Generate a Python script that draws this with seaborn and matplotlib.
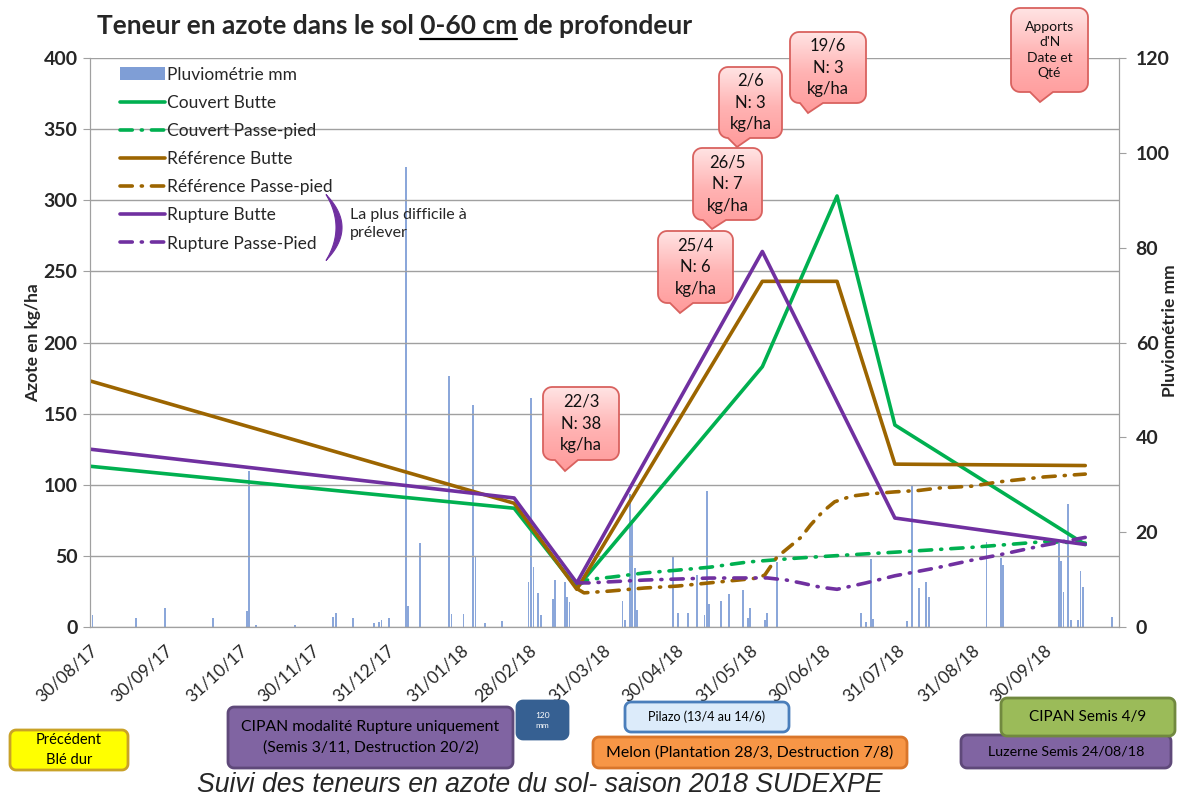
import numpy as np
import pandas as pd
import matplotlib
matplotlib.use("Agg")
import matplotlib.pyplot as plt
from matplotlib.patches import Polygon, Patch
from matplotlib.lines import Line2D
from matplotlib.colors import LinearSegmentedColormap
import seaborn as sns

# ---------------- data ----------------
tick_labels = ["30/08/17", "30/09/17", "31/10/17", "30/11/17", "31/12/17", "31/01/18", "28/02/18",
               "31/03/18", "30/04/18", "31/05/18", "30/06/18", "31/07/18", "31/08/18", "30/09/18"]

rain_dates = ["2017-08-31", "2017-09-18", "2017-09-30", "2017-10-20", "2017-11-03", "2017-11-04", "2017-11-07",
              "2017-11-23", "2017-12-09", "2017-12-10", "2017-12-17", "2017-12-26", "2017-12-28", "2017-12-29",
              "2018-01-01", "2018-01-08", "2018-01-09", "2018-01-14", "2018-01-26", "2018-01-27", "2018-02-01",
              "2018-02-05", "2018-02-06", "2018-02-10", "2018-02-17", "2018-02-28", "2018-03-01", "2018-03-02",
              "2018-03-04", "2018-03-05", "2018-03-10", "2018-03-11", "2018-03-15", "2018-03-16", "2018-03-17",
              "2018-04-08", "2018-04-09", "2018-04-11", "2018-04-12", "2018-04-13", "2018-04-14", "2018-04-29",
              "2018-05-01", "2018-05-05", "2018-05-09", "2018-05-12", "2018-05-13", "2018-05-14", "2018-05-19",
              "2018-05-22", "2018-05-28", "2018-05-30", "2018-05-31", "2018-06-06", "2018-06-07", "2018-06-11",
              "2018-07-16", "2018-07-18", "2018-07-20", "2018-07-21", "2018-08-04", "2018-08-06", "2018-08-09",
              "2018-08-12", "2018-08-13", "2018-09-06", "2018-09-12", "2018-09-13", "2018-10-06", "2018-10-07",
              "2018-10-08", "2018-10-10", "2018-10-11", "2018-10-14", "2018-10-15", "2018-10-16", "2018-10-28"]
rain_mm = [2.5, 2, 4, 2, 3.4, 33, 0.5, 0.5, 2.2, 2.9, 2, 0.8, 1, 1.5, 2, 97, 4.4, 17.8, 53, 2.7, 2.7,
           46.8, 15, 0.8, 1.3, 9.5, 48.3, 12.7, 7.2, 2.5, 6, 10, 9.5, 6.3, 5.3, 5.5, 1.5, 28, 22.5, 12.4, 3.6,
           15, 2.9, 2.9, 11, 2.5, 28.7, 4.9, 5.5, 7, 7.8, 1.9, 4, 1.5, 2.9, 13.7, 2.9, 1, 14.3, 1.7, 1.3, 30,
           8.2, 9.5, 6.3, 18, 14.5, 13, 17.7, 14, 7.4, 26, 1.5, 1.5, 11.8, 8.4, 2.1]

couvert_butte_dates = ["2017-08-30", "2018-02-22", "2018-03-20", "2018-06-05", "2018-07-06", "2018-07-30", "2018-10-17"]
couvert_butte = [113, 83.5, 27.5, 183, 303, 142, 58]

reference_butte_dates = ["2017-08-30", "2018-02-22", "2018-03-20", "2018-06-05", "2018-07-06", "2018-07-30", "2018-10-17"]
reference_butte = [173, 87, 26.5, 243, 243, 114.5, 113.5]

rupture_butte_dates = ["2017-08-30", "2018-02-22", "2018-03-20", "2018-06-05", "2018-07-30", "2018-10-17"]
rupture_butte = [125, 90.7, 31, 264, 76.6, 58]

couvert_pp_dates = ["2018-03-20", "2018-03-25", "2018-04-03", "2018-04-17", "2018-05-01", "2018-05-14", "2018-05-30",
                    "2018-06-20", "2018-07-10", "2018-07-31", "2018-08-31", "2018-09-30", "2018-10-17"]
couvert_pp = [29, 33.5, 35, 38, 40, 42, 45.7, 48.5, 50.6, 52.7, 56, 60, 59]

reference_pp_dates = ["2018-03-20", "2018-03-23", "2018-04-03", "2018-04-17", "2018-05-01", "2018-05-14", "2018-05-26",
                      "2018-06-03", "2018-06-06", "2018-06-11", "2018-06-21", "2018-06-25", "2018-06-30", "2018-07-05",
                      "2018-07-12", "2018-07-19", "2018-07-30", "2018-08-09", "2018-08-17", "2018-08-31", "2018-09-11",
                      "2018-09-30", "2018-10-17"]
reference_pp = [27, 24, 25.3, 27.4, 28.8, 31, 33, 34.4, 36.5, 49, 63, 71.7, 81, 88, 92, 93.5, 95, 96, 97.7, 99,
                102, 105.5, 107.5]

rupture_pp_dates = ["2018-03-20", "2018-03-25", "2018-04-17", "2018-05-14", "2018-06-07", "2018-06-15", "2018-06-21",
                    "2018-06-29", "2018-07-06", "2018-07-18", "2018-07-30", "2018-08-16", "2018-08-31", "2018-09-11",
                    "2018-09-30", "2018-10-17"]
rupture_pp = [31, 31, 33, 34.4, 34.5, 33, 31, 28, 26.5, 31, 36, 41.5, 47, 50.6, 57.5, 63]

series = [
    ("Couvert Butte", couvert_butte_dates, couvert_butte, "#00B050", "-"),
    ("Couvert Passe-pied", couvert_pp_dates, couvert_pp, "#00B050", "dd"),
    ("Référence Butte", reference_butte_dates, reference_butte, "#9C6500", "-"),
    ("Référence Passe-pied", reference_pp_dates, reference_pp, "#9C6500", "dd"),
    ("Rupture Butte", rupture_butte_dates, rupture_butte, "#7030A0", "-"),
    ("Rupture Passe-Pied", rupture_pp_dates, rupture_pp, "#7030A0", "dd"),
]

callouts = [
    ("22/3\nN: 38\nkg/ha", (543, 387, 619, 460), (555, 578, 565, 471), 12),
    ("25/4\nN: 6\nkg/ha", (658, 231, 733, 303), (670, 693, 680, 313), 12),
    ("26/5\nN: 7\nkg/ha", (693, 148, 762, 220), (703, 726, 712, 229), 12),
    ("2/6\nN: 3\nkg/ha", (719, 67, 782, 138), (728, 750, 737, 147), 12),
    ("19/6\nN: 3\nkg/ha", (790, 32, 866, 103), (800, 823, 808, 113), 12),
    ("Apports\nd'N\nDate et\nQté", (1011, 8, 1088, 92), (1030, 1053, 1040, 102), 10),
]

boxes = [
    ("Précédent\nBlé dur", (10, 730, 128, 770), "#FFFF00", "#C9A227", "black", 10.5),
    ("CIPAN modalité Rupture uniquement\n(Semis 3/11, Destruction 20/2)", (228, 707, 513, 768), "#8064A2", "#5F497A", "black", 11.3),
    ("120\nmm", (517, 701, 568, 739), "#366092", "#366092", "white", 6),
    ("Pilazo (13/4 au 14/6)", (625, 702, 789, 732), "#DCEBFA", "#4A7EBB", "black", 9),
    ("Melon (Plantation 28/3, Destruction 7/8)", (593, 737, 907, 768), "#F79646", "#D9762B", "black", 11.4),
    ("Luzerne Semis 24/08/18", (961, 735, 1171, 768), "#8064A2", "#5F497A", "black", 10.3),
    ("CIPAN Semis 4/9", (1001, 698, 1175, 736), "#9BBB59", "#71893F", "black", 11),
]

# ---------------- style ----------------
sns.set_style("white")
plt.rcParams["font.family"] = ["Lato", "DejaVu Sans"]

W, H = 1179, 797
fig = plt.figure(figsize=(W / 100, H / 100), dpi=100)
ax = fig.add_axes([90 / W, 170 / H, 1029 / W, 569 / H])
ax2 = ax.twinx()

grid_c = "#A0A0A0"
rain_c = "#7F9ED6"

# rain bars on secondary axis
rd = pd.to_datetime(rain_dates)
ax2.bar(rd, rain_mm, width=0.75, color=rain_c, edgecolor="none", alpha=0.9, zorder=2)
ax2.set_ylim(0, 120)
ax2.set_yticks(np.arange(0, 121, 20))

# lines on primary axis (drawn above the bars)
ax.set_zorder(ax2.get_zorder() + 1)
ax.patch.set_visible(False)

handles = [Patch(facecolor=rain_c, edgecolor="none", label="Pluviométrie mm")]
dd = (0, (3.4, 2.5, 0.3, 2.5))
for name, dts, vals, col, ls in series:
    df = pd.DataFrame({"date": pd.to_datetime(dts), "val": vals})
    style = "-" if ls == "-" else dd
    sns.lineplot(data=df, x="date", y="val", ax=ax, color=col, linewidth=2.6,
                 linestyle=style, sort=False, dash_capstyle="round", solid_capstyle="round",
                 solid_joinstyle="round", legend=False)
    handles.append(Line2D([], [], color=col, lw=2.6, linestyle=style, dash_capstyle="round", label=name))

ax.set_ylim(0, 400)
ax.set_yticks(np.arange(0, 401, 50))
ax.set_xlim(pd.Timestamp("2017-08-30"), pd.Timestamp("2018-10-31"))
tick_pos = pd.to_datetime(tick_labels, format="%d/%m/%y")
ax.set_xticks(tick_pos)
ax.set_xticklabels(tick_labels, rotation=42, ha="right", va="top", rotation_mode="anchor", fontsize=12.5)
ax.set_xlabel("")
ax.set_ylabel("Azote en kg/ha", fontsize=12.5, fontweight="bold")
ax.yaxis.set_label_coords(-0.048, 0.5)
ax2.set_ylabel("Pluviométrie mm", fontsize=12.5, fontweight="bold")
ax2.yaxis.set_label_coords(1.0418, 0.52)

for a in (ax, ax2):
    for s in a.spines.values():
        s.set_color(grid_c)
    a.spines["top"].set_visible(False)
ax.yaxis.grid(True, color=grid_c, lw=1)
ax.xaxis.grid(False)
ax.tick_params(axis="y", length=5, color=grid_c, labelsize=14, pad=4)
ax2.tick_params(axis="y", length=5, color=grid_c, labelsize=14, pad=7)
ax.tick_params(axis="x", length=6, color=grid_c, pad=5)
for lab in ax.get_yticklabels() + ax2.get_yticklabels():
    lab.set_fontweight("bold")

leg = ax.legend(handles=handles, loc="upper left", bbox_to_anchor=(0.022, 0.997), frameon=False,
                fontsize=12.5, handlelength=2.6, handletextpad=0.12, labelspacing=0.70, borderaxespad=0)

# ---------------- overlay (pixel coordinates) ----------------
ov = fig.add_axes([0, 0, 1, 1], zorder=20)
ov.set_xlim(0, W)
ov.set_ylim(H, 0)
ov.axis("off")
ov.patch.set_visible(False)


def rounded_path(x0, y0, x1, y1, r, pointer=None):
    pts = []
    def arc(cx, cy, a0, a1):
        for t in np.linspace(a0, a1, 8):
            pts.append((cx + r * np.cos(t), cy + r * np.sin(t)))
    arc(x1 - r, y0 + r, -np.pi / 2, 0)
    arc(x1 - r, y1 - r, 0, np.pi / 2)
    if pointer is not None:
        bx0, bx1, tx, ty = pointer
        pts += [(bx1, y1), (tx, ty), (bx0, y1)]
    arc(x0 + r, y1 - r, np.pi / 2, np.pi)
    arc(x0 + r, y0 + r, np.pi, 1.5 * np.pi)
    return pts


pink = LinearSegmentedColormap.from_list("pink", ["#FFE4E4", "#FFB3B3", "#FF9A9A"])
grad = np.linspace(0, 1, 256).reshape(-1, 1)
for txt, (x0, y0, x1, y1), ptr, fs in callouts:
    poly = Polygon(rounded_path(x0, y0, x1, y1, 9, ptr), closed=True, fc="none", ec="#D9625F", lw=1.3, zorder=5)
    ov.add_patch(poly)
    im = ov.imshow(grad, cmap=pink, extent=(x0, x1, ptr[3], y0), origin="upper", aspect="auto", zorder=4)
    im.set_clip_path(poly)
    ov.text((x0 + x1) / 2, (y0 + y1) / 2, txt, ha="center", va="center", fontsize=fs,
            linespacing=1.45 if fs > 11 else 1.35, zorder=6, color="#111111")
ov.set_xlim(0, W)
ov.set_ylim(H, 0)

for txt, (x0, y0, x1, y1), fc, ec, tc, fs in boxes:
    poly = Polygon(rounded_path(x0, y0, x1, y1, 6), closed=True, fc=fc, ec=ec, lw=2, zorder=5)
    ov.add_patch(poly)
    ov.text((x0 + x1) / 2, (y0 + y1) / 2, txt, ha="center", va="center", fontsize=fs,
            linespacing=1.5, color=tc, zorder=6)

# bracket ")" next to legend
t = np.linspace(-1, 1, 40)
outer = [(326 + 16 * (1 - tt ** 2), 227.5 + 33 * tt) for tt in t]
inner = [(326 + 10 * (1 - tt ** 2), 227.5 + 33 * tt) for tt in t[::-1]]
ov.add_patch(Polygon(outer + inner, closed=True, fc="#7030A0", ec="#7030A0", lw=0.8, zorder=5))
ov.text(350, 224, "La plus difficile à\nprélever", ha="left", va="center", fontsize=11.5, linespacing=1.4)

# footer
ov.text(540, 785, "Suivi des teneurs en azote du sol- saison 2018 SUDEXPE", ha="center", va="center",
        fontsize=19.2, style="italic", family=["Liberation Sans", "DejaVu Sans"])

# title with underlined part
title_kw = dict(fontsize=19, fontweight="bold", family=["Lato", "DejaVu Sans"])
ov.text(97, 34, "Teneur en azote dans le sol 0-60 cm de profondeur", ha="left", va="baseline", **title_kw)
fig.canvas.draw()
r = fig.canvas.get_renderer()


def tw(s):
    tmp = ov.text(0, 0, s, **title_kw)
    w = tmp.get_window_extent(r).width
    tmp.remove()
    return w


u0 = 97 + tw("Teneur en azote dans le sol 0") - tw("0")
u1 = u0 + tw("0-60 cm")
ov.plot([u0, u1], [38.5, 38.5], color="black", lw=1.6, zorder=6)

fig.savefig("out.png", dpi=100)
